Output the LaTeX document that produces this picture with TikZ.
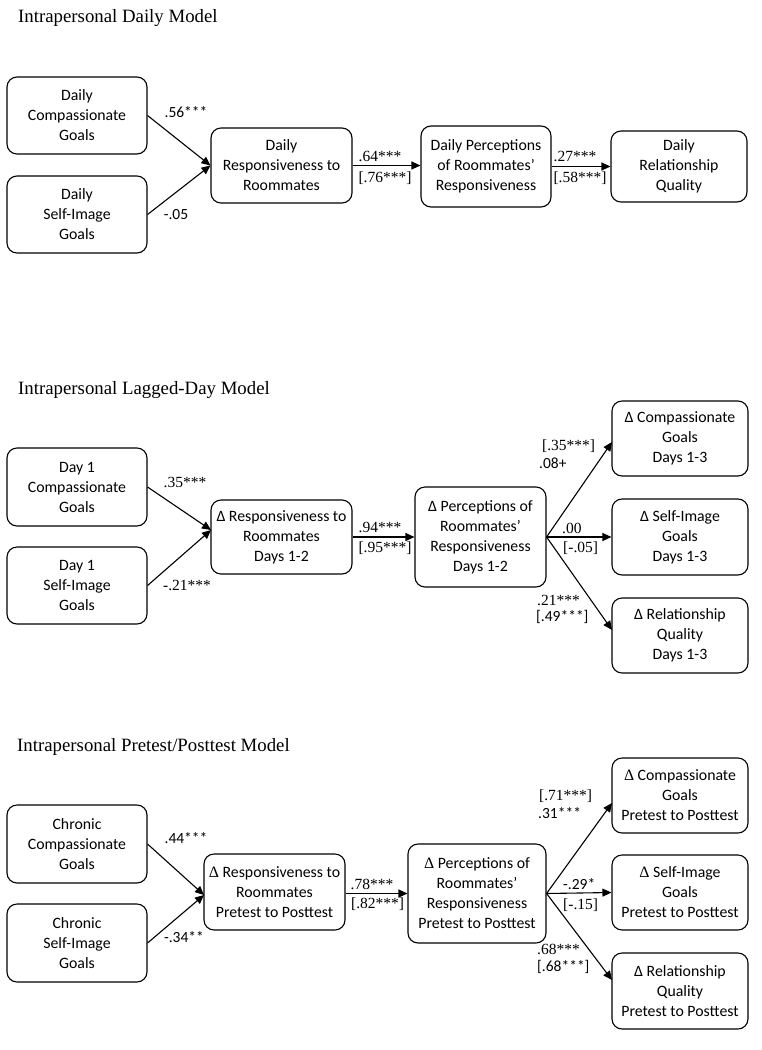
\documentclass[tikz,border=0pt]{standalone}
\usepackage{fontspec}
\setmainfont{Liberation Serif}
\newfontfamily\boxfont{Carlito}
\usetikzlibrary{arrows.meta}
\begin{document}
\begin{tikzpicture}[x=1pt,y=-1pt,
  box/.style={draw, rounded corners=10pt, line width=1.1pt, align=center,
    font=\boxfont\fontsize{15.8}{20}\selectfont, inner sep=0pt},
  conn/.style={line width=1.1pt, -{Triangle[length=9pt,width=8pt]}},
  title/.style={anchor=west, inner sep=0pt, font=\fontsize{18.8}{22}\selectfont},
  ser/.style={inner sep=0pt, font=\fontsize{15.5}{18}\selectfont},
  san/.style={inner sep=0pt, font=\boxfont\fontsize{15.5}{18}\selectfont}]
\useasboundingbox (0,0) rectangle (762,1050);
\newcommand{\bx}[5]{\node[box, minimum width=#2pt, minimum height=#3pt] (#1) at (#4) {#5};}

% ---------------- Daily model ----------------
\node[title] (t1) at (18,18) {Intrapersonal Daily Model};
\bx{dcg}{140}{77}{77,115.5}{Daily\\Compassionate\\Goals}
\bx{dsg}{140}{77}{77,214.5}{Daily\\Self-Image\\Goals}
\bx{dr}{141}{75}{281.5,165.5}{Daily\\Responsiveness to\\Roommates}
\bx{dp}{130}{81}{486,166.5}{Daily Perceptions\\of Roommates’\\Responsiveness}
\bx{dq}{136}{71}{679,166.5}{Daily\\Relationship\\Quality}
\draw[conn] (dcg.east) -- (dr.west);
\draw[conn] (dsg.east) -- (dr.west);
\draw[conn] (dr.east) -- (dr.east -| dp.west);
\draw[conn] (dp.east |- dq.west) -- (dq.west);
\node[san] (l1) at (186,112) {.56***};
\node[san] (l2) at (176,215) {-.05};
\node[ser] (l3) at (380,156) {.64***};
\node[ser] (l4) at (385,178) {[.76***]};
\node[ser] (l5) at (575,156) {.27***};
\node[ser] (l6) at (580,178) {[.58***]};

% ---------------- Lagged-day model ----------------
\node[title] (t2) at (18,390) {Intrapersonal Lagged-Day Model};
\bx{lcg}{140}{78}{77,487}{Day 1\\Compassionate\\Goals}
\bx{lsg}{140}{77}{77,585.5}{Day 1\\Self-Image\\Goals}
\bx{lr}{141}{74}{281.5,537}{Δ Responsiveness to\\Roommates\\Days 1-2}
\bx{lp}{131}{100}{480.5,537}{Δ Perceptions of\\Roommates’\\Responsiveness\\Days 1-2}
\bx{lo1}{136}{75}{680,438.5}{Δ Compassionate\\Goals\\Days 1-3}
\bx{lo2}{136}{76}{680,537}{Δ Self-Image\\Goals\\Days 1-3}
\bx{lo3}{136}{75}{680,635.5}{Δ Relationship\\Quality\\Days 1-3}
\coordinate (lin) at (211,530);
\coordinate (lo1in) at (612,442);
\coordinate (lo3in) at (612,630);
\draw[conn] (lcg.east) -- (lin);
\draw[conn] (lsg.east) -- (lin);
\draw[conn] (lr.east) -- (lp.west);
\draw[conn] (lp.east) -- (lo1in);
\draw[conn] (lp.east) -- (lo2.west);
\draw[conn] (lp.east) -- (lo3in);
\node[ser] (m1) at (185,482) {.35***};
\node[ser] (m2) at (187,585) {-.21***};
\node[ser] (m3) at (380,527) {.94***};
\node[ser] (m4) at (385,548) {[.95***]};
\node[ser, anchor=west] (m5) at (542,446) {[.35***]};
\node[san, anchor=west] (m6) at (539,463) {.08+};
\node[ser, anchor=west] (m7) at (562,528) {.00};
\node[ser, anchor=west] (m8) at (563,548) {[-.05]};
\node[ser, anchor=west] (m9) at (537,600) {.21***};
\node[san, anchor=west] (m10) at (536,617) {[.49***]};

% ---------------- Pretest/Posttest model ----------------
\node[title] (t3) at (17,747) {Intrapersonal Pretest/Posttest Model};
\bx{pcg}{140}{78}{77,844}{Chronic\\Compassionate\\Goals}
\bx{psg}{140}{78}{77,943}{Chronic\\Self-Image\\Goals}
\bx{pr}{141}{76}{274.5,892}{{\rmfamily Δ} Responsiveness to\\Roommates\\Pretest to Posttest}
\bx{pp}{138}{99}{477,893.5}{{\rmfamily Δ} Perceptions of\\Roommates’\\Responsiveness\\Pretest to Posttest}
\bx{po1}{136}{75}{680,795.5}{{\rmfamily Δ} Compassionate\\Goals\\Pretest to Posttest}
\bx{po2}{136}{75}{680,892.5}{{\rmfamily Δ} Self-Image\\Goals\\Pretest to Posttest}
\bx{po3}{136}{76}{680,991}{Δ Relationship\\Quality\\Pretest to Posttest}
\coordinate (pin) at (204,895);
\coordinate (po1in) at (612,803);
\coordinate (po3in) at (612,980);
\draw[conn] (pcg.east) -- (pin);
\draw[conn] (psg.east) -- (pin);
\draw[conn] (pr.east |- pp.west) -- (pp.west);
\draw[conn] (pp.east) -- (po1in);
\draw[conn] (pp.east) -- (po2.west);
\draw[conn] (pp.east) -- (po3in);
\node[san] (n1) at (186,838) {.44***};
\node[san] (n2) at (184,937) {-.34**};
\node[ser] (n3) at (372,884) {.78***};
\node[ser, anchor=west] (n4) at (351,904) {[.82***]};
\node[ser, anchor=west] (n5) at (539,796) {[.71***]};
\node[san, anchor=west] (n6) at (538,813) {.31***};
\node[san, anchor=west] (n7) at (563,884) {-.29*};
\node[ser, anchor=west] (n8) at (563,905) {[-.15]};
\node[ser, anchor=west] (n9) at (537,949) {.68***};
\node[san, anchor=west] (n10) at (537,967) {[.68***]};
\end{tikzpicture}
\end{document}
